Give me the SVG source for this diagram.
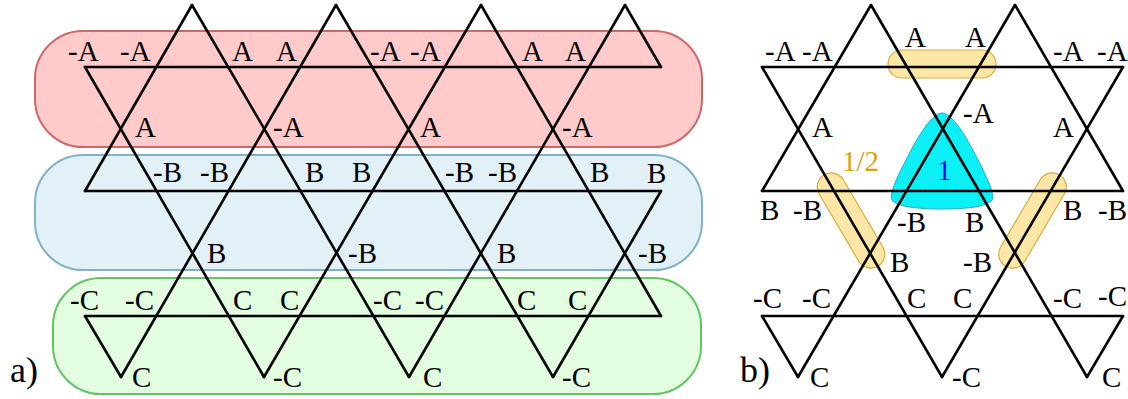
<svg xmlns="http://www.w3.org/2000/svg" width="1128" height="399" viewBox="0 0 1128 399">
<style>
.ln{stroke:#000;stroke-width:2.6;fill:none;stroke-linecap:round;stroke-linejoin:round}
.pill{fill:#fce7a6;stroke:#d6ad3c;stroke-width:1.2}
</style>
<rect width="1128" height="399" fill="#fff"/>
<g id="bands">
<rect id="bandA" x="35" y="31" width="667" height="116" rx="48" fill="#ffcaca" stroke="#cc6868" stroke-width="2"/>
<rect id="bandB" x="35" y="155" width="667" height="115" rx="48" fill="#e2f1f8" stroke="#7fb2c6" stroke-width="2"/>
<rect id="bandC" x="53" y="278" width="648" height="116" rx="48" fill="#e2fde0" stroke="#62c462" stroke-width="2"/>
</g>
<g id="highlights">
<rect class="pill" x="888" y="50" width="108" height="28" rx="14"/>
<rect class="pill" x="-53" y="-14" width="106" height="28" rx="14" transform="translate(851,220.5) rotate(59.5)"/>
<rect class="pill" x="-53" y="-14" width="106" height="28" rx="14" transform="translate(1032.5,220.5) rotate(-59.5)"/>
<path id="plaquette" d="M942,113 C952,113 966,136 978,160 C988,179 995,195 992,200 C987,207 965,209 942,209 C919,209 897,207 892,200 C889,195 896,179 906,160 C918,136 932,113 942,113 Z" fill="#0af0f6" stroke="#2aaac4" stroke-width="1"/>
</g>
<g id="connectors" class="ln">
<path d="M85,67H661M85,191H661M85,316H661"/>
<path d="M85,67L264,377M192,5L409,377M336,5L553,377M481,5L661,316M625,5L661,67M85,316L121,377"/>
<path d="M192,5L85,191M336,5L121,377M481,5L264,377M625,5L409,377M661,191L553,377"/>
<path d="M762,67H1123M762,191H1123M762,316H1123"/>
<path d="M762,67L942,377M871,5L1087,377M1015,5L1123,191M762,316L798,377"/>
<path d="M871,5L762,191M1015,5L798,377M1123,67L942,377M1123,316L1087,377"/>
</g>
<g id="labels-a" font-family="Liberation Serif, serif" font-size="29" fill="#000">
<text x="68" y="61">-A</text><text x="120" y="61">-A</text><text x="232" y="61">A</text><text x="276" y="61">A</text>
<text x="370" y="61">-A</text><text x="410" y="61">-A</text><text x="522" y="61">A</text><text x="565" y="61">A</text>
<text x="135" y="137">A</text><text x="273" y="137">-A</text><text x="420" y="137">A</text><text x="562" y="137">-A</text>
<text x="153" y="182">-B</text><text x="200" y="182">-B</text><text x="305" y="182">B</text><text x="352" y="182">B</text>
<text x="445" y="182">-B</text><text x="488" y="182">-B</text><text x="590" y="182">B</text><text x="647" y="183">B</text>
<text x="207" y="263">B</text><text x="348" y="263">-B</text><text x="497" y="263">B</text><text x="638" y="263">-B</text>
<text x="70" y="310">-C</text><text x="125" y="310">-C</text><text x="233" y="310">C</text><text x="280" y="310">C</text>
<text x="373" y="310">-C</text><text x="415" y="310">-C</text><text x="517" y="310">C</text><text x="568" y="310">C</text>
<text x="132" y="387">C</text><text x="273" y="387">-C</text><text x="423" y="387">C</text><text x="562" y="387">-C</text>
<text x="10" y="382" font-size="36">a)</text>
</g>
<g id="labels-b" font-family="Liberation Serif, serif" font-size="29" fill="#000">
<text x="765" y="61">-A</text><text x="802" y="61">-A</text><text x="905" y="47">A</text><text x="965" y="47">A</text>
<text x="1053" y="61">-A</text><text x="1097" y="61">-A</text>
<text x="812" y="137">A</text><text x="963" y="123">-A</text><text x="1053" y="137">A</text>
<text x="842" y="171" fill="#d6a414">1/2</text>
<text x="937" y="180" fill="#0000ff">1</text>
<text x="760" y="220">B</text><text x="793" y="220">-B</text><text x="897" y="232">-B</text><text x="965" y="232">B</text>
<text x="1063" y="220">B</text><text x="1098" y="220">-B</text>
<text x="890" y="272">B</text><text x="963" y="272">-B</text>
<text x="753" y="308">-C</text><text x="802" y="308">-C</text><text x="907" y="308">C</text><text x="953" y="308">C</text>
<text x="1053" y="308">-C</text><text x="1098" y="306">-C</text>
<text x="810" y="387">C</text><text x="952" y="387">-C</text><text x="1102" y="387">C</text>
<text x="740" y="382" font-size="36">b)</text>
</g>
</svg>
